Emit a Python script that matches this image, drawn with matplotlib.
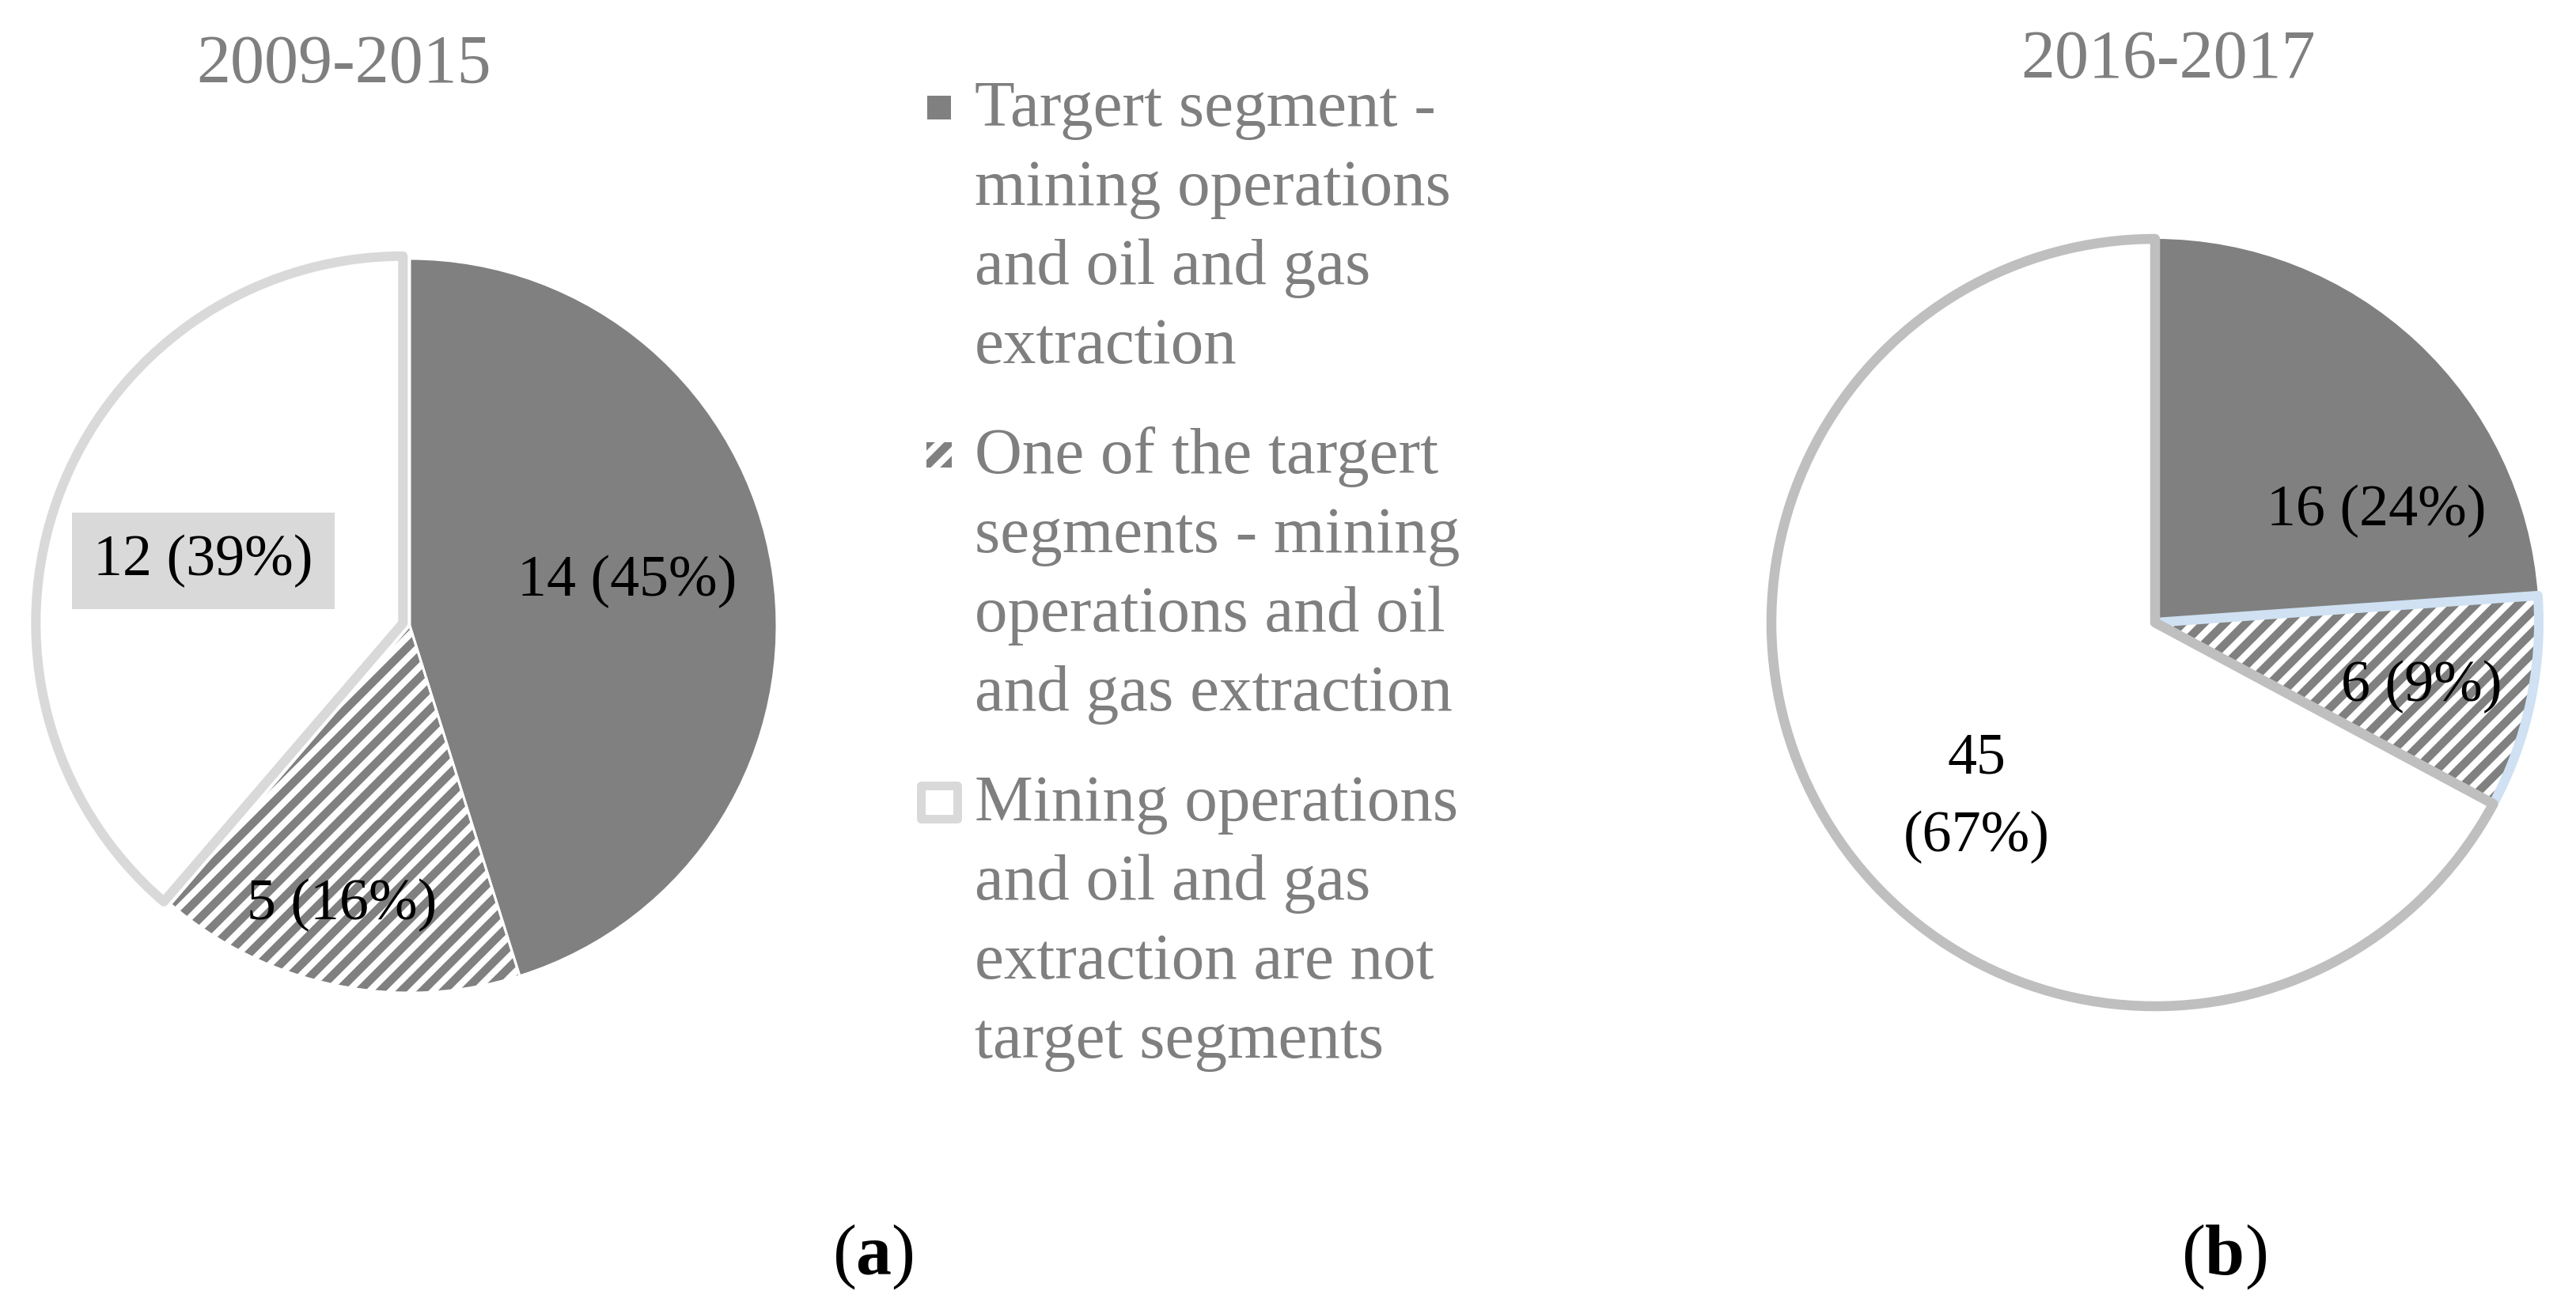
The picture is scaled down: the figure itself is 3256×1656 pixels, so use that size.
import matplotlib
matplotlib.use("Agg")
import matplotlib.pyplot as plt
from matplotlib.patches import Rectangle

# ---------------- data ----------------
categories = [
    ["Targert segment -", "mining operations", "and oil and gas", "extraction"],
    ["One of the targert", "segments - mining", "operations and oil", "and gas extraction"],
    ["Mining operations", "and oil and gas", "extraction are not", "target segments"],
]
titles = ["2009-2015", "2016-2017"]
panel_labels = ["a", "b"]
values_2009_2015 = [14, 5, 12]
values_2016_2017 = [16, 6, 45]

# ---------------- style / layout ----------------
W, H, DPI = 3256, 1656, 160
plt.rcParams['font.family'] = ['Liberation Serif', 'DejaVu Serif']
plt.rcParams['mathtext.fontset'] = 'custom'
plt.rcParams['mathtext.rm'] = 'Liberation Serif'
plt.rcParams['mathtext.bf'] = 'Liberation Serif:bold'


def pt(px):
    return px * 72.0 / DPI


plt.rcParams['hatch.linewidth'] = pt(10.5)

GRAY_TXT = '#7F7F7F'
DARK = '#808080'
HATCH_C = '#808080'
fills = [DARK, 'white', 'white']
hatches = [None, '//', None]

fig = plt.figure(figsize=(W / DPI, H / DPI), dpi=DPI)
fig.patch.set_facecolor('white')


def fx(x):
    return x / W


def fy(y):
    return 1 - y / H


pies = [
    dict(values=values_2009_2015, cx=518, cy=791, r=464,
         explode=[0, 0, 0.02],
         edges=[('white', 3.0), ('white', 3.0), ('#D9D9D9', 12.0)],
         labels=[(0.592, 0.082, False), (-0.184, -0.801, False), (-0.562, 0.138, True)],
         split=[False, False, False],
         title_xy=(435, 104), panel_xy=(1103, 1611)),
    dict(values=values_2016_2017, cx=2724, cy=787, r=485,
         explode=[0, 0, 0],
         edges=[('none', 0.0), ('#CFE1F2', 12.0), ('#BFBFBF', 12.5)],
         labels=[(0.577, 0.253, False), (0.695, -0.205, False), (-0.465, -0.392, False)],
         split=[False, False, True],
         title_xy=(2740, 98), panel_xy=(2811, 1611)),
]

LABEL_FS = pt(74)
TITLE_FS = pt(86)
LEG_FS = pt(83)
PANEL_FS = pt(90)

for k, p in enumerate(pies):
    r = p['r']
    ax = fig.add_axes([fx(p['cx'] - r), fy(p['cy'] + r), 2 * r / W, 2 * r / H])
    vals = p['values']
    total = sum(vals)
    wedges, _ = ax.pie(vals, radius=1, startangle=90, counterclock=False,
                       colors=fills, hatch=hatches, explode=p['explode'],
                       wedgeprops=dict(linewidth=0))
    for w in wedges:
        w.set_edgecolor(HATCH_C)
        w.set_linewidth(0)
        w.set_clip_on(False)
    ewedges, _ = ax.pie(vals, radius=1, startangle=90, counterclock=False,
                        explode=p['explode'], wedgeprops=dict(fill=False))
    for w, (ec, lw) in zip(ewedges, p['edges']):
        w.set_edgecolor(ec)
        w.set_linewidth(pt(lw))
        w.set_joinstyle('round')
        w.set_clip_on(False)
    ax.set_xlim(-1, 1)
    ax.set_ylim(-1, 1)
    ax.axis('off')

    for v, (lx, ly, boxed), sp in zip(vals, p['labels'], p['split']):
        pct = round(100 * v / total)
        lines = [f"{v}", f"({pct}%)"] if sp else [f"{v} ({pct}%)"]
        for j, line in enumerate(lines):
            kw = {}
            if boxed:
                kw['bbox'] = dict(boxstyle='square,pad=0.365', fc='#D9D9D9', ec='none')
            ax.text(lx, ly - j * 99.0 / r, line, ha='center', va='baseline',
                    fontsize=LABEL_FS, color='black', clip_on=False, **kw)

    tx, ty = p['title_xy']
    fig.text(fx(tx), fy(ty), titles[k], ha='center', va='baseline',
             fontsize=TITLE_FS, color=GRAY_TXT)
    px_, py_ = p['panel_xy']
    fig.text(fx(px_), fy(py_), "(" + r"$\mathbf{" + panel_labels[k] + "}$" + ")",
             ha='center', va='baseline', fontsize=PANEL_FS, color='black')

# ---------------- legend (manual, first-line aligned markers) ----------------
LEG_X = 1232
LEG_TOP = 159
LINE_STEP = 100
ITEM_GAP = 39
MX = 1187
marker_styles = [
    dict(w=30, h=30, fc=DARK, ec='none', lw=0, hatch=None),
    dict(w=32, h=32, fc='none', ec=HATCH_C, lw=0, hatch='//'),
    dict(w=46, h=42, fc='white', ec='#D9D9D9', lw=11, hatch=None),
]
for i, lines in enumerate(categories):
    base = LEG_TOP + i * (len(lines) * LINE_STEP + ITEM_GAP)
    for j, line in enumerate(lines):
        fig.text(fx(LEG_X), fy(base + j * LINE_STEP), line, ha='left', va='baseline',
                 fontsize=LEG_FS, color=GRAY_TXT)
    ms = marker_styles[i]
    cy = base - 23
    rect = Rectangle((fx(MX - ms['w'] / 2), fy(cy + ms['h'] / 2)), ms['w'] / W, ms['h'] / H,
                     transform=fig.transFigure, facecolor=ms['fc'], edgecolor=ms['ec'],
                     linewidth=pt(ms['lw']), hatch=ms['hatch'], joinstyle='round')
    fig.add_artist(rect)

fig.savefig('out.png', dpi=DPI, facecolor='white')
